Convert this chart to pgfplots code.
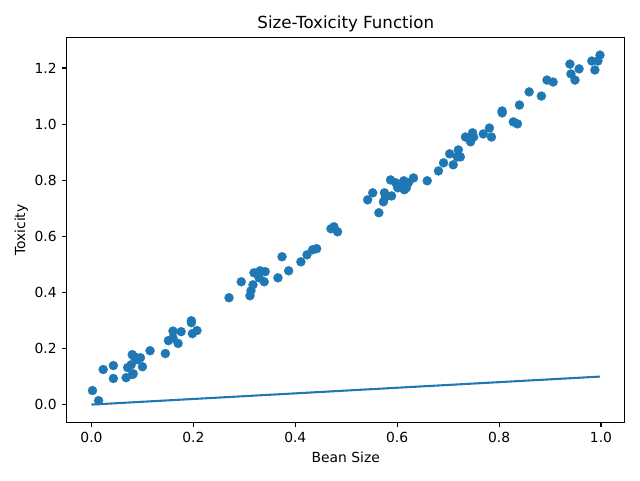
\documentclass[border=0pt]{standalone}
\usepackage{pgfplots}
\pgfplotsset{compat=1.18}
\usepackage{fontspec}
\setmainfont{DejaVu Sans}
\definecolor{mplblue}{HTML}{1F77B4}
\begin{document}
\begin{tikzpicture}
\useasboundingbox (-50pt,-43.3pt) rectangle (430pt,316.8pt);
\begin{axis}[
  scale only axis,
  width=418.7pt, height=288.5pt,
  xmin=-0.0487, xmax=1.047,
  ymin=-0.0635, ymax=1.308,
  xtick={0,0.2,0.4,0.6,0.8,1.0},
  ytick={0,0.2,0.4,0.6,0.8,1.0,1.2},
  /pgf/number format/assume math mode=true,
  /pgf/number format/.cd, fixed, fixed zerofill, precision=1, /pgfplots/.cd,
  tick align=outside,
  tick style={black, line width=0.83pt},
  major tick length=3.65pt,
  axis line style={line width=0.83pt},
  xtick pos=bottom, ytick pos=left,
  tick label style={font=\fontsize{10.4}{12}\selectfont},
  xticklabel style={anchor=north, inner sep=0pt, yshift=-3.6pt},
  yticklabel style={anchor=east, inner sep=0pt, xshift=-3.6pt},
  label style={font=\fontsize{10.4}{12}\selectfont},
  xlabel={Bean Size},
  ylabel={Toxicity},
  xlabel style={at={(axis description cs:0.5,0)}, anchor=center, yshift=-26pt},
  ylabel style={at={(axis description cs:0,0.5)}, anchor=center, rotate=0, yshift=34pt},
  title={Size-Toxicity Function},
  title style={font=\fontsize{12.5}{14}\selectfont, at={(axis description cs:0.5,1)}, anchor=base, yshift=1pt, inner sep=0pt},
]
\addplot[mplblue, line width=1.56pt] coordinates {(0.0,0.0) (0.998,0.0998)};
\addplot[mplblue, only marks, mark=*, mark size=3.4pt, mark options={solid, draw=mplblue, fill=mplblue, line width=0.2pt}] coordinates {
(0.002,0.050) (0.014,0.014) (0.023,0.125) (0.043,0.139) (0.043,0.093)
(0.068,0.096) (0.071,0.132) (0.080,0.178) (0.084,0.171) (0.078,0.142)
(0.082,0.110) (0.080,0.107) (0.090,0.160) (0.096,0.167) (0.100,0.135)
(0.115,0.192) (0.145,0.182) (0.151,0.228) (0.160,0.262) (0.160,0.238)
(0.170,0.218) (0.176,0.260) (0.196,0.299) (0.196,0.292) (0.198,0.253)
(0.207,0.264)
(0.270,0.381) (0.294,0.438) (0.311,0.388) (0.313,0.406) (0.317,0.427)
(0.319,0.470) (0.331,0.477) (0.329,0.452) (0.339,0.438) (0.341,0.474)
(0.366,0.452) (0.374,0.527) (0.387,0.477) (0.411,0.509) (0.423,0.534)
(0.434,0.552) (0.442,0.556) (0.470,0.627) (0.476,0.634) (0.483,0.616)
(0.542,0.730) (0.552,0.755) (0.564,0.684) (0.573,0.723) (0.575,0.755)
(0.577,0.741) (0.587,0.801) (0.589,0.744) (0.597,0.791) (0.601,0.773)
(0.607,0.780) (0.613,0.798) (0.614,0.766) (0.618,0.773) (0.622,0.791)
(0.632,0.808) (0.659,0.798)
(0.681,0.833) (0.691,0.862) (0.703,0.894) (0.710,0.855) (0.718,0.883)
(0.720,0.908) (0.724,0.883) (0.734,0.954) (0.744,0.937) (0.748,0.969)
(0.750,0.954) (0.769,0.965) (0.781,0.986) (0.785,0.954) (0.806,1.047)
(0.806,1.040) (0.828,1.008) (0.836,1.001) (0.840,1.068) (0.859,1.115)
(0.883,1.100) (0.894,1.157) (0.906,1.150) (0.939,1.214) (0.941,1.179)
(0.949,1.157) (0.957,1.197) (0.982,1.225) (0.988,1.193) (0.998,1.246)
(0.994,1.225)
};
\end{axis}
\end{tikzpicture}
\end{document}
